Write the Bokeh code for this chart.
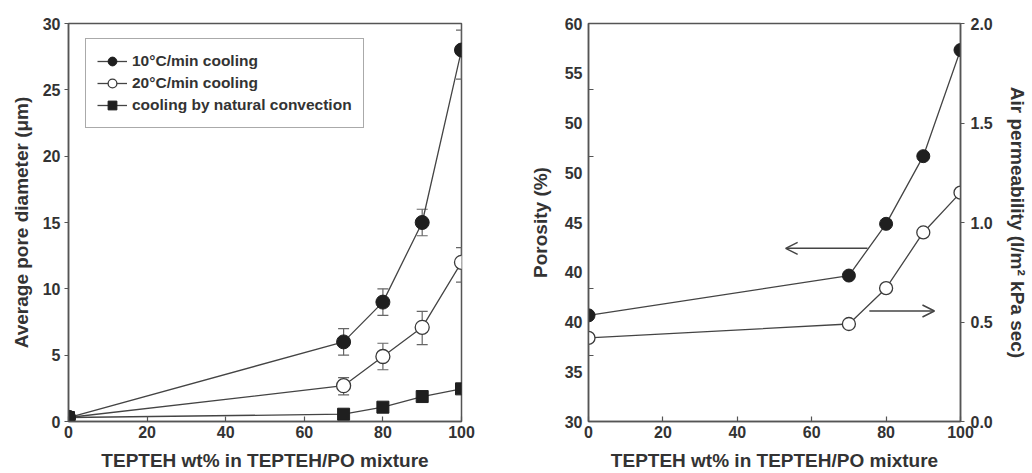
from bokeh.plotting import figure
from bokeh.layouts import row
from bokeh.models import (ColumnDataSource, Whisker, TeeHead, Legend, LegendItem,
                          FixedTicker, LinearAxis, Range1d, Arrow, OpenHead,
                          PrintfTickFormatter)
from bokeh.embed import file_html
from bokeh.resources import INLINE

# ---------------- data: left chart ----------------
x_pct = [0, 70, 80, 90, 100]
d10 = [0.3, 6.0, 9.0, 15.0, 28.0]
d10_hi = [0.3, 7.0, 10.0, 16.0, 29.5]
d10_lo = [0.3, 5.0, 8.0, 14.0, 25.8]
d20 = [0.3, 2.7, 4.9, 7.1, 12.0]
d20_hi = [0.3, 3.3, 5.9, 8.3, 13.1]
d20_lo = [0.3, 2.0, 3.9, 5.8, 10.5]
dnat = [0.3, 0.55, 1.08, 1.88, 2.46]
legend_labels = ["10\u00b0C/min cooling", "20\u00b0C/min cooling", "cooling by natural convection"]

# ---------------- data: right chart ----------------
porosity = [38.0, 41.0, 44.9, 50.0, 58.0]
permeability = [0.42, 0.49, 0.67, 0.95, 1.15]
por_ticks = [30, 33.75, 37.5, 41.25, 45, 48.75, 52.5, 56.25, 60]
por_tick_labels = ["30", "35", "40", "40", "45", "50", "50", "55", "60"]
por_minor = [35, 40, 50, 55]
perm_ticks = [0.0, 0.5, 1.0, 1.5, 2.0]
x_ticks = [0, 20, 40, 60, 80, 100]
# arrows: (x_start, x_end, y on porosity scale)
arrow_left = (75, 53, 43.05)
arrow_right = (75.5, 93, 38.33)

FONT = "Liberation Sans"
TXT = "#333333"
AX = "#555555"
LINE = "#444444"


def style_axis(ax, tick_in=0, tick_out=4):
    ax.axis_line_color = AX
    ax.axis_line_width = 1.5
    ax.major_tick_line_color = AX
    ax.major_tick_line_width = 1.2
    ax.major_tick_in = tick_in
    ax.major_tick_out = tick_out
    ax.minor_tick_line_color = None
    ax.major_label_text_font = FONT
    ax.major_label_text_font_style = "bold"
    ax.major_label_text_font_size = "16px"
    ax.major_label_text_color = TXT
    ax.axis_label_text_font = FONT
    ax.axis_label_text_font_style = "bold"
    ax.axis_label_text_font_size = "19px"
    ax.axis_label_text_color = TXT


# ================= LEFT FIGURE =================
p1 = figure(frame_width=393, frame_height=398, x_range=Range1d(0, 100), y_range=Range1d(0, 30),
            output_backend="svg", toolbar_location=None)
p1.min_border_left = 68
p1.min_border_top = 23
p1.min_border_right = 59
p1.min_border_bottom = 48
p1.xgrid.grid_line_color = None
p1.ygrid.grid_line_color = None
p1.outline_line_color = AX
p1.outline_line_width = 1.5
p1.background_fill_color = "white"

p1.xaxis.ticker = FixedTicker(ticks=x_ticks)
p1.yaxis.ticker = FixedTicker(ticks=[0, 5, 10, 15, 20, 25, 30])
style_axis(p1.xaxis[0], tick_in=5, tick_out=0)
style_axis(p1.yaxis[0], tick_in=0, tick_out=4)
p1.xaxis.axis_label = "TEPTEH wt% in TEPTEH/PO mixture"
p1.yaxis.axis_label = "Average pore diameter (\u03bcm)"
p1.xaxis.major_label_standoff = 4
p1.xaxis.axis_label_standoff = 9
p1.yaxis.major_label_standoff = 4
p1.yaxis.axis_label_standoff = 8

# error bars
s10 = ColumnDataSource(dict(x=x_pct[1:], hi=d10_hi[1:], lo=d10_lo[1:]))
s20 = ColumnDataSource(dict(x=x_pct[1:], hi=d20_hi[1:], lo=d20_lo[1:]))
for s in (s10, s20):
    w = Whisker(source=s, base="x", upper="hi", lower="lo", line_color="#666666", line_width=1.2,
                upper_head=TeeHead(size=11, line_color="#666666", line_width=1.2),
                lower_head=TeeHead(size=11, line_color="#666666", line_width=1.2))
    p1.add_layout(w)

l1 = p1.line(x_pct, d10, line_color=LINE, line_width=1.3)
l2 = p1.line(x_pct, d20, line_color=LINE, line_width=1.3)
l3 = p1.line(x_pct, dnat, line_color=LINE, line_width=1.3)
m2 = p1.scatter(x_pct, d20, marker="circle", size=14, fill_color="white", line_color="#3a3a3a", line_width=1.3)
m1 = p1.scatter(x_pct, d10, marker="circle", size=14, fill_color="#1f1f1f", line_color="#1f1f1f")
m3 = p1.scatter(x_pct, dnat, marker="square", size=12, fill_color="#1f1f1f", line_color="#1f1f1f")

legend = Legend(items=[LegendItem(label=legend_labels[0], renderers=[l1, m1]),
                       LegendItem(label=legend_labels[1], renderers=[l2, m2]),
                       LegendItem(label=legend_labels[2], renderers=[l3, m3])],
                location=(17, 293))
legend.label_text_font = FONT
legend.label_text_font_style = "bold"
legend.label_text_font_size = "15.5px"
legend.label_text_color = TXT
legend.border_line_color = AX
legend.border_line_width = 1.2
legend.padding = 11
legend.spacing = 0
legend.glyph_width = 30
legend.glyph_height = 22
legend.label_height = 22
legend.label_standoff = 5
legend.margin = 0
p1.add_layout(legend, "center")

# ================= RIGHT FIGURE =================
p2 = figure(frame_width=372, frame_height=398, x_range=Range1d(0, 100), y_range=Range1d(30, 60),
            output_backend="svg", toolbar_location=None)
p2.min_border_left = 68
p2.min_border_top = 23
p2.min_border_right = 72
p2.min_border_bottom = 48
p2.xgrid.grid_line_color = None
p2.ygrid.grid_line_color = None
p2.outline_line_color = AX
p2.outline_line_width = 1.5
p2.extra_y_ranges = {"perm": Range1d(0, 2)}

p2.xaxis.ticker = FixedTicker(ticks=x_ticks)
style_axis(p2.xaxis[0], tick_in=5, tick_out=0)
p2.xaxis.axis_label = "TEPTEH wt% in TEPTEH/PO mixture"
p2.xaxis.major_label_standoff = 4
p2.xaxis.axis_label_standoff = 9

p2.yaxis.ticker = FixedTicker(ticks=por_ticks, minor_ticks=por_minor)
style_axis(p2.yaxis[0], tick_in=0, tick_out=0)
p2.yaxis.minor_tick_line_color = AX
p2.yaxis.minor_tick_line_width = 1.2
p2.yaxis.minor_tick_in = 5
p2.yaxis.minor_tick_out = 0
p2.yaxis.major_label_overrides = {float(t): lab for t, lab in zip(por_ticks, por_tick_labels)}
p2.yaxis.axis_label = "Porosity (%)"
p2.yaxis.major_label_standoff = 6
p2.yaxis.axis_label_standoff = 11

ax_r = LinearAxis(y_range_name="perm", ticker=FixedTicker(ticks=perm_ticks),
                  formatter=PrintfTickFormatter(format="%.1f"),
                  axis_label="Air permeability (l/m\u00b2 kPa sec)")
style_axis(ax_r, tick_in=0, tick_out=4)
ax_r.major_label_standoff = 6
ax_r.axis_label_standoff = 11
p2.add_layout(ax_r, "right")

p2.line(x_pct, porosity, line_color=LINE, line_width=1.3)
p2.line(x_pct, permeability, line_color=LINE, line_width=1.3, y_range_name="perm")
p2.scatter(x_pct, porosity, marker="circle", size=13, fill_color="#1f1f1f", line_color="#1f1f1f")
p2.scatter(x_pct, permeability, marker="circle", size=13, fill_color="white", line_color="#3a3a3a",
           line_width=1.3, y_range_name="perm")

for xs, xe, yy in (arrow_left, arrow_right):
    p2.add_layout(Arrow(x_start=xs, y_start=yy, x_end=xe, y_end=yy, line_color=LINE, line_width=1.5,
                        end=OpenHead(size=12, line_color=LINE, line_width=1.5)))

layout = row(p1, p2, spacing=0)
open("out.html", "w").write(file_html(layout, INLINE))
